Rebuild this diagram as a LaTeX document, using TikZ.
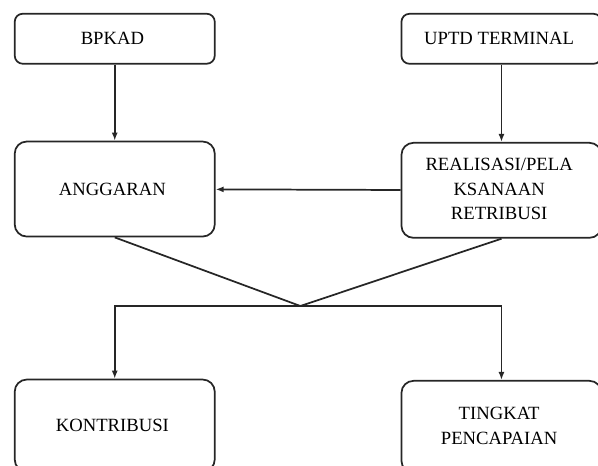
\documentclass[tikz,border=0pt]{standalone}
\usepackage{fontspec}
\setmainfont{Liberation Serif}
\usetikzlibrary{matrix, calc, arrows.meta}
\newcommand{\stacked}[1]{\begin{tabular}{@{}c@{}}#1\end{tabular}}

\begin{document}
\begin{tikzpicture}[line width=1.3pt, black!85]
    \tikzset{
      mymx/.style={
        matrix of nodes,
        inner sep=0pt,
        row sep=57pt,
        column sep=138.75pt,
        nodes={box},
      },
      box/.style={
        draw=black!85, text=black, rounded corners=6pt, rectangle,
        minimum width=150pt, minimum height=37.5pt,
        align=center, inner sep=2pt,
        font=\fontsize{14}{18.4}\selectfont,
      },
      tall/.style={minimum height=71.25pt, rounded corners=9pt},
      low/.style={minimum height=69pt, rounded corners=9pt},
      arr/.style={-{Latex[length=6pt,width=4.5pt]}},
    }

    \useasboundingbox (0,0) rectangle (448.5pt,-349.5pt);

    \matrix (m) [mymx, anchor=north west] at (9.75pt,-9pt)
        { BPKAD & UPTD TERMINAL \\
          |[tall]| ANGGARAN & |[tall]| \stacked{REALISASI/PELA\\KSANAAN\\RETRIBUSI} \\[48pt]
          |[low]| KONTRIBUSI & |[low]| \stacked{TINGKAT\\PENCAPAIAN} \\
        };

    \path[arr]
        (m-1-1) edge (m-2-1)
        (m-1-2) edge (m-2-2)
        (m-2-2) edge (m-2-1);

    % split into the two results
    \coordinate (j) at ($(m-2-1.south)!0.48!(m-2-2.south) + (0,-51pt)$);
    \draw (m-2-1.south) -- (j) -- (m-2-2.south);
    \draw[arr] (j) -| (m-3-1);
    \draw[arr] (j) -| (m-3-2);
\end{tikzpicture}
\end{document}
